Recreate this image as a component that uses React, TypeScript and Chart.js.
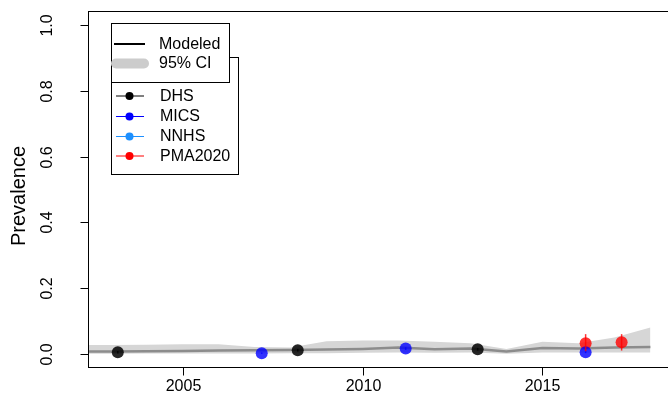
import React, { useEffect, useRef } from "react";
import { Chart, registerables } from "chart.js";

Chart.register(...registerables);

const modelYears = [2002, 2003, 2004, 2005, 2006, 2007, 2008, 2009, 2010, 2011, 2012, 2013, 2014, 2015, 2016, 2017, 2018];
const modeled = [0.007, 0.007, 0.008, 0.009, 0.010, 0.011, 0.012, 0.013, 0.015, 0.019, 0.014, 0.016, 0.007, 0.018, 0.016, 0.019, 0.021];
const ciUpper = [0.027, 0.027, 0.028, 0.029, 0.029, 0.021, 0.019, 0.038, 0.041, 0.041, 0.037, 0.032, 0.015, 0.037, 0.032, 0.05, 0.08];
const ciLower = [0.0, 0.0, 0.001, 0.001, 0.001, 0.001, 0.002, 0.002, 0.003, 0.004, 0.003, 0.004, 0.0, 0.004, 0.004, 0.004, 0.004];

const dhsYears = [2003.2, 2008.2, 2013.2];
const dhsValues = [0.005, 0.011, 0.014];
const dhsLower = [0.001, 0.007, 0.010];
const dhsUpper = [0.009, 0.015, 0.018];

const micsYears = [2007.2, 2011.2, 2016.2];
const micsValues = [0.002, 0.016, 0.005];
const micsLower = [0.0, 0.012, 0.002];
const micsUpper = [0.004, 0.020, 0.008];

const nnhsYears: number[] = [];
const nnhsValues: number[] = [];
const nnhsLower: number[] = [];
const nnhsUpper: number[] = [];

const pmaYears = [2016.2, 2017.2];
const pmaValues = [0.032, 0.035];
const pmaLower = [0.008, 0.010];
const pmaUpper = [0.060, 0.060];

const xTicks = [2005, 2010, 2015];
const yTicks = [0, 0.2, 0.4, 0.6, 0.8, 1.0];
const yTickLabels = ["0.0", "0.2", "0.4", "0.6", "0.8", "1.0"];
const yTitle = "Prevalence";
const legendModel = ["Modeled", "95% CI"];
const legendSources = ["DHS", "MICS", "NNHS", "PMA2020"];
const sourceColors = ["#000000", "#0000ff", "#1e90ff", "#ff0000"];
const pointColors = ["rgba(0,0,0,0.85)", "rgba(0,0,255,0.8)", "rgba(30,144,255,0.8)", "rgba(255,0,0,0.8)"];

const FONT = '"Liberation Sans", Arial, sans-serif';

const sources = [
  { years: dhsYears, values: dhsValues, lower: dhsLower, upper: dhsUpper },
  { years: micsYears, values: micsValues, lower: micsLower, upper: micsUpper },
  { years: nnhsYears, values: nnhsValues, lower: nnhsLower, upper: nnhsUpper },
  { years: pmaYears, values: pmaValues, lower: pmaLower, upper: pmaUpper },
];

const drawPlugin = {
  id: "rdraw",
  afterDatasetsDraw(chart: any) {
    const ctx = chart.ctx;
    const xs = chart.scales.x;
    const ys = chart.scales.y;
    ctx.save();
    ctx.beginPath();
    ctx.rect(chart.chartArea.left, chart.chartArea.top, chart.chartArea.right - chart.chartArea.left, chart.chartArea.bottom - chart.chartArea.top);
    ctx.clip();
    sources.forEach((s, si) => {
      ctx.strokeStyle = pointColors[si];
      ctx.lineWidth = 1.5;
      s.years.forEach((yr, i) => {
        const px = xs.getPixelForValue(yr);
        ctx.beginPath();
        ctx.moveTo(px, ys.getPixelForValue(s.lower[i]));
        ctx.lineTo(px, ys.getPixelForValue(s.upper[i]));
        ctx.stroke();
      });
    });
    ctx.restore();
  },
  afterDraw(chart: any) {
    const ctx = chart.ctx;
    const xs = chart.scales.x;
    const ys = chart.scales.y;
    const a = chart.chartArea;
    ctx.save();
    ctx.strokeStyle = "#000";
    ctx.fillStyle = "#000";
    ctx.lineWidth = 1;
    const L = a.left - 0.5;
    const T = a.top - 0.5;
    const B = a.bottom + 0.5;
    const R = a.right + 0.5;
    ctx.strokeRect(L, T, R - L, B - T);
    ctx.font = `16px ${FONT}`;
    yTicks.forEach((v, i) => {
      const py = Math.round(ys.getPixelForValue(v)) + 0.5;
      ctx.beginPath();
      ctx.moveTo(L - 8, py);
      ctx.lineTo(L, py);
      ctx.stroke();
      ctx.save();
      ctx.translate(52, py);
      ctx.rotate(-Math.PI / 2);
      ctx.textAlign = "center";
      ctx.textBaseline = "alphabetic";
      ctx.fillText(yTickLabels[i], 0, 0);
      ctx.restore();
    });
    xTicks.forEach((v) => {
      const px = Math.round(xs.getPixelForValue(v)) + 0.5;
      ctx.beginPath();
      ctx.moveTo(px, B);
      ctx.lineTo(px, B + 8);
      ctx.stroke();
      ctx.textAlign = "center";
      ctx.textBaseline = "alphabetic";
      ctx.fillText(String(v), px, 391);
    });
    ctx.save();
    ctx.translate(25, 196);
    ctx.rotate(-Math.PI / 2);
    ctx.font = `20px ${FONT}`;
    ctx.textAlign = "center";
    ctx.textBaseline = "alphabetic";
    ctx.fillText(yTitle, 0, 0);
    ctx.restore();

    ctx.fillStyle = "#fff";
    ctx.fillRect(111.5, 57.5, 127, 117);
    ctx.strokeRect(111.5, 57.5, 127, 117);
    ctx.fillRect(111.5, 23.5, 118, 59);
    ctx.strokeRect(111.5, 23.5, 118, 59);

    ctx.font = `16px ${FONT}`;
    ctx.textAlign = "left";
    ctx.textBaseline = "middle";
    ctx.strokeStyle = "#000";
    ctx.lineWidth = 2;
    ctx.beginPath();
    ctx.moveTo(114, 44);
    ctx.lineTo(145, 44);
    ctx.stroke();
    ctx.fillStyle = "#000";
    ctx.fillText(legendModel[0], 159, 44.5);
    ctx.strokeStyle = "#cccccc";
    ctx.lineWidth = 10;
    ctx.lineCap = "round";
    ctx.beginPath();
    ctx.moveTo(116, 63.5);
    ctx.lineTo(144, 63.5);
    ctx.stroke();
    ctx.lineCap = "butt";
    ctx.fillText(legendModel[1], 159, 64);
    const ly = [96, 116.5, 136.5, 156];
    legendSources.forEach((name, i) => {
      ctx.strokeStyle = sourceColors[i];
      ctx.lineWidth = 1;
      ctx.beginPath();
      ctx.moveTo(116, ly[i]);
      ctx.lineTo(144, ly[i]);
      ctx.stroke();
      ctx.fillStyle = sourceColors[i];
      ctx.beginPath();
      ctx.arc(129.5, ly[i], 4, 0, Math.PI * 2);
      ctx.fill();
      ctx.fillStyle = "#000";
      ctx.fillText(name, 160, ly[i] + 0.5);
    });
    ctx.restore();
  },
};

export default function App() {
  const ref = useRef<HTMLCanvasElement>(null);
  useEffect(() => {
    if (!ref.current) return;
    const pts = (xsArr: number[], ysArr: number[]) => xsArr.map((x, i) => ({ x, y: ysArr[i] }));
    const chart = new Chart(ref.current, {
      type: "scatter",
      data: {
        datasets: [
          {
            label: "upper",
            data: pts(modelYears, ciUpper),
            showLine: true,
            borderWidth: 0,
            borderColor: "rgba(0,0,0,0)",
            pointRadius: 0,
            fill: "+1",
            backgroundColor: "#d6d6d6",
            order: 5,
          },
          {
            label: "lower",
            data: pts(modelYears, ciLower),
            showLine: true,
            borderWidth: 0,
            borderColor: "rgba(0,0,0,0)",
            pointRadius: 0,
            fill: false,
            order: 4,
          },
          {
            label: "Modeled",
            data: pts(modelYears, modeled),
            showLine: true,
            borderWidth: 2.5,
            borderColor: "#8c8c8c",
            pointRadius: 0,
            fill: false,
            order: 3,
          },
          ...sources.map((s, i) => ({
            label: legendSources[i],
            data: pts(s.years, s.values),
            pointRadius: 6,
            pointBackgroundColor: pointColors[i],
            backgroundColor: pointColors[i],
            borderWidth: 0,
            pointBorderWidth: 0,
            showLine: false,
            order: 0,
          })),
        ] as any,
      },
      options: {
        responsive: false,
        animation: false,
        layout: { padding: { top: 12, right: 8, left: 0, bottom: 0 } },
        plugins: {
          legend: { display: false },
          tooltip: { enabled: false },
          filler: { drawTime: "beforeDatasetsDraw" },
        },
        scales: {
          x: {
            type: "linear",
            min: 2002.4,
            max: 2018.6,
            grid: { display: false },
            border: { display: false },
            ticks: { display: false },
            afterFit: (s: any) => {
              s.height = 43;
            },
          },
          y: {
            type: "linear",
            min: -0.04,
            max: 1.04,
            grid: { display: false },
            border: { display: false },
            ticks: { display: false },
            afterFit: (s: any) => {
              s.width = 89;
            },
          },
        },
      } as any,
      plugins: [drawPlugin],
    });
    return () => chart.destroy();
  }, []);
  return (
    <div style={{ position: "absolute", left: 0, top: 0, width: 668, height: 410, overflow: "hidden", background: "#fff" }}>
      <canvas ref={ref} width={680} height={410} style={{ display: "block", width: 680, height: 410 }} />
    </div>
  );
}
